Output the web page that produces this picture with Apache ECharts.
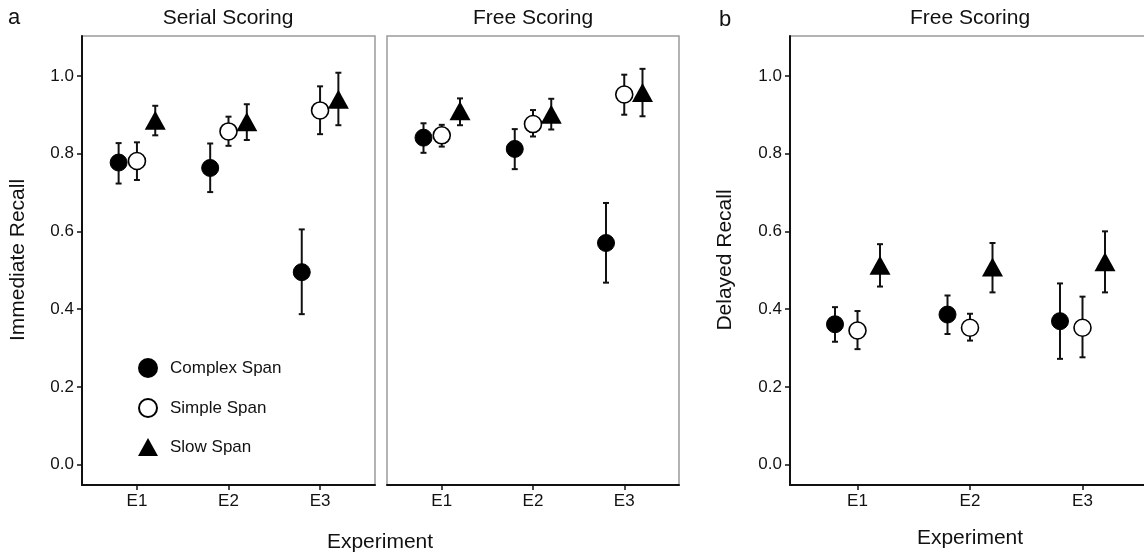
<!DOCTYPE html>
<html>
<head>
<meta charset="utf-8">
<script src="https://cdn.jsdelivr.net/npm/echarts@6/dist/echarts.min.js"></script>
<style>
  html, body { margin: 0; padding: 0; background: #fff; }
  #chart { width: 1144px; height: 556px; }
</style>
</head>
<body>
<div id="chart"></div>
<script>
// categories and ticks
const experiments = ["E1", "E2", "E3"];
const yTicks = [0, 0.2, 0.4, 0.6, 0.8, 1.0];

// a, Serial Scoring (immediate recall)
const serialComplex = [0.777, 0.763, 0.495];
const serialComplexLo = [0.723, 0.701, 0.387];
const serialComplexHi = [0.827, 0.826, 0.605];
const serialSimple = [0.781, 0.857, 0.911];
const serialSimpleLo = [0.732, 0.820, 0.850];
const serialSimpleHi = [0.829, 0.895, 0.973];
const serialSlow = [0.886, 0.882, 0.940];
const serialSlowLo = [0.847, 0.835, 0.873];
const serialSlowHi = [0.923, 0.927, 1.008];

// a, Free Scoring (immediate recall)
const freeComplex = [0.841, 0.812, 0.570];
const freeComplexLo = [0.802, 0.760, 0.468];
const freeComplexHi = [0.878, 0.863, 0.673];
const freeSimple = [0.847, 0.876, 0.952];
const freeSimpleLo = [0.818, 0.844, 0.900];
const freeSimpleHi = [0.874, 0.912, 1.003];
const freeSlow = [0.910, 0.901, 0.957];
const freeSlowLo = [0.873, 0.862, 0.896];
const freeSlowHi = [0.942, 0.941, 1.018];

// b, Free Scoring (delayed recall)
const delayComplex = [0.361, 0.386, 0.369];
const delayComplexLo = [0.316, 0.336, 0.272];
const delayComplexHi = [0.405, 0.435, 0.466];
const delaySimple = [0.345, 0.352, 0.352];
const delaySimpleLo = [0.297, 0.319, 0.276];
const delaySimpleHi = [0.395, 0.388, 0.432];
const delaySlow = [0.513, 0.508, 0.522];
const delaySlowLo = [0.458, 0.443, 0.443];
const delaySlowHi = [0.567, 0.570, 0.600];

const FONT = "Liberation Sans, Arial, sans-serif";
const INK = "#111";
const dodge = { complex: -0.2, simple: 0, slow: 0.2 };

const styles = {
  complex: { name: "Complex Span", symbol: "circle", size: 17, itemStyle: { color: "#000", borderColor: "#000", borderWidth: 1, opacity: 1 } },
  simple: { name: "Simple Span", symbol: "circle", size: 17, itemStyle: { color: "#fff", borderColor: "#000", borderWidth: 1.6, opacity: 1 } },
  slow: { name: "Slow Span", symbol: "triangle", size: [21, 19], itemStyle: { color: "#000", borderColor: "#000", borderWidth: 0, opacity: 1 } },
};

function points(group, means, panel) {
  const s = styles[group];
  return {
    name: s.name,
    type: "scatter",
    xAxisIndex: panel,
    yAxisIndex: panel,
    symbol: s.symbol,
    symbolSize: s.size,
    itemStyle: s.itemStyle,
    z: 3,
    silent: true,
    data: means.map((m, i) => [i + 1 + dodge[group], m]),
  };
}

function errorBars(group, lo, hi, panel) {
  return {
    type: "custom",
    xAxisIndex: panel,
    yAxisIndex: panel,
    z: 2,
    silent: true,
    encode: { x: 0, y: [1, 2] },
    renderItem: function (params, api) {
      const x = api.value(0);
      const top = api.coord([x, api.value(2)]);
      const bot = api.coord([x, api.value(1)]);
      const w = 3;
      const style = { stroke: INK, lineWidth: 2 };
      return {
        type: "group",
        children: [
          { type: "line", shape: { x1: top[0], y1: top[1], x2: bot[0], y2: bot[1] }, style },
          { type: "line", shape: { x1: top[0] - w, y1: top[1], x2: top[0] + w, y2: top[1] }, style },
          { type: "line", shape: { x1: bot[0] - w, y1: bot[1], x2: bot[0] + w, y2: bot[1] }, style },
        ],
      };
    },
    data: lo.map((l, i) => [i + 1 + dodge[group], l, hi[i]]),
  };
}

const panels = [
  { complex: [serialComplex, serialComplexLo, serialComplexHi], simple: [serialSimple, serialSimpleLo, serialSimpleHi], slow: [serialSlow, serialSlowLo, serialSlowHi] },
  { complex: [freeComplex, freeComplexLo, freeComplexHi], simple: [freeSimple, freeSimpleLo, freeSimpleHi], slow: [freeSlow, freeSlowLo, freeSlowHi] },
  { complex: [delayComplex, delayComplexLo, delayComplexHi], simple: [delaySimple, delaySimpleLo, delaySimpleHi], slow: [delaySlow, delaySlowLo, delaySlowHi] },
];

let series = [];
panels.forEach((p, idx) => {
  ["complex", "simple", "slow"].forEach((g) => {
    series.push(errorBars(g, p[g][1], p[g][2], idx));
    series.push(points(g, p[g][0], idx));
  });
});

const grids = [
  { left: 82, top: 36, width: 293, height: 449 },
  { left: 387, top: 36, width: 292, height: 449 },
  { left: 790, top: 36, width: 360, height: 449 },
].map((g) => Object.assign({ show: true, borderColor: "#9a9a9a", borderWidth: 1.5, backgroundColor: "#fff", outerBoundsMode: "none", containLabel: false }, g));

function xAxis(idx) {
  return {
    type: "value",
    gridIndex: idx,
    min: 0.4,
    max: 3.6,
    splitLine: { show: false },
    axisLine: { show: true, onZero: false, lineStyle: { color: INK, width: 2 } },
    axisTick: { show: true, length: 5, customValues: [1, 2, 3], lineStyle: { color: INK, width: 1.5 } },
    axisLabel: {
      customValues: [1, 2, 3],
      margin: 8,
      color: INK,
      fontFamily: FONT,
      fontSize: 17,
      formatter: (v) => experiments[Math.round(v) - 1],
    },
  };
}

function yAxis(idx) {
  const visible = idx !== 1;
  return {
    type: "value",
    gridIndex: idx,
    min: -0.0525,
    max: 1.1025,
    splitLine: { show: false },
    axisLine: { show: visible, onZero: false, lineStyle: { color: INK, width: 2 } },
    axisTick: { show: visible, length: 5, customValues: yTicks, lineStyle: { color: INK, width: 1.5 } },
    axisLabel: {
      show: visible,
      customValues: yTicks,
      margin: 8,
      color: INK,
      fontFamily: FONT,
      fontSize: 17,
      formatter: (v) => v.toFixed(1),
    },
  };
}

function label(text, x, y, size, rotate) {
  return {
    type: "text",
    x: x,
    y: y,
    rotation: rotate ? Math.PI / 2 : 0,
    style: { text: text, fill: INK, font: size + "px " + FONT, textAlign: "center", textVerticalAlign: "middle" },
  };
}

const chart = echarts.init(document.getElementById("chart"));
chart.setOption({
  animation: false,
  backgroundColor: "#fff",
  grid: grids,
  xAxis: [xAxis(0), xAxis(1), xAxis(2)],
  yAxis: [yAxis(0), yAxis(1), yAxis(2)],
  legend: {
    orient: "vertical",
    left: 133,
    top: 353,
    itemWidth: 20,
    itemHeight: 18,
    itemGap: 20,
    selectedMode: false,
    data: ["Complex Span", "Simple Span", "Slow Span"],
    textStyle: { color: INK, fontFamily: FONT, fontSize: 17, padding: [0, 0, 0, 7] },
  },
  graphic: [
    label("a", 14, 18, 22),
    label("b", 725, 20, 22),
    label("Serial Scoring", 228, 18, 21),
    label("Free Scoring", 533, 18, 21),
    label("Free Scoring", 970, 18, 21),
    label("Immediate Recall", 18, 260, 21, true),
    label("Delayed Recall", 725, 260, 21, true),
    label("Experiment", 380, 542, 21),
    label("Experiment", 970, 538, 21),
  ],
  series,
});
</script>
</body>
</html>
